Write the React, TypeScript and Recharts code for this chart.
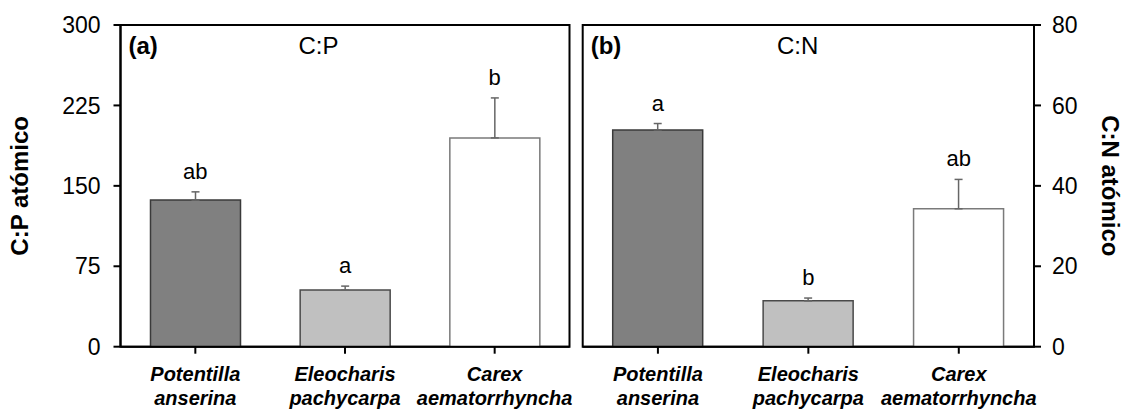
import React from 'react'
import { BarChart, Bar, XAxis, YAxis, ErrorBar, Cell, ReferenceDot, ReferenceArea, Label } from 'recharts'

// Species on the x axis (genus / epithet on two lines)
const genera = ['Potentilla', 'Eleocharis', 'Carex']
const epithets = ['anserina', 'pachycarpa', 'aematorrhyncha']

// Panel (a): atomic C:P, mean and standard error
const cpMeans = [136.7, 52.8, 194.7]
const cpErrors = [7.7, 3.7, 37.3]
const cpLetters = ['ab', 'a', 'b']
const cpTicks = [0, 75, 150, 225, 300]

// Panel (b): atomic C:N, mean and standard error
const cnMeans = [53.9, 11.4, 34.3]
const cnErrors = [1.6, 0.7, 7.3]
const cnLetters = ['a', 'b', 'ab']
const cnTicks = [0, 20, 40, 60, 80]

const barFills = ['#808080', '#c0c0c0', '#ffffff']
const barStrokes = ['#3a3a3a', '#4a4a4a', '#7a7a7a']

const FONT = '"Liberation Sans", Arial, Helvetica, sans-serif'
const AXIS = { stroke: '#000', strokeWidth: 2 }

const SpeciesTick = ({ x, y, payload }: any) => {
  const [genus, epithet] = String(payload.value).split(' ')
  return (
    <text
      x={x}
      y={y}
      textAnchor="middle"
      fontFamily={FONT}
      fontSize={20}
      fontWeight="bold"
      fontStyle="italic"
      fill="#000"
    >
      <tspan x={x} dy={25}>{genus}</tspan>
      <tspan x={x} dy={24}>{epithet}</tspan>
    </text>
  )
}

interface PanelProps {
  tag: string
  title: string
  titleDx: number
  axisTitle: string
  means: number[]
  errors: number[]
  letters: string[]
  ticks: number[]
  side: 'left' | 'right'
  left: number
  width: number
  margin: { top: number; right: number; bottom: number; left: number }
  axisWidth: number
  axisTitleDx: number
}

function Panel({
  tag,
  title,
  titleDx,
  axisTitle,
  means,
  errors,
  letters,
  ticks,
  side,
  left,
  width,
  margin,
  axisWidth,
  axisTitleDx,
}: PanelProps) {
  const rows = genera.map((g, i) => ({
    name: `${g} ${epithets[i]}`,
    value: means[i],
    err: [0, errors[i]],
  }))
  const domainMax = ticks[ticks.length - 1]

  return (
    <div style={{ position: 'absolute', left, top: 0 }}>
      <BarChart width={width} height={412} data={rows} margin={margin}>
        <XAxis
          dataKey="name"
          interval={0}
          height={65.3}
          axisLine={AXIS}
          tickLine={AXIS}
          tickSize={7}
          tick={<SpeciesTick />}
        />
        <YAxis
          orientation={side}
          width={axisWidth}
          domain={[0, domainMax]}
          ticks={ticks}
          interval={0}
          axisLine={AXIS}
          tickLine={AXIS}
          tickSize={7}
          tickMargin={side === 'left' ? 13 : 11}
          tick={{ fill: '#000', fontSize: 23, fontFamily: FONT }}
        >
          <Label
            content={({ viewBox }: any) => {
              const cx = viewBox.x + axisTitleDx
              const cy = viewBox.y + viewBox.height / 2
              return (
                <text
                  x={cx}
                  y={cy}
                  transform={`rotate(${side === 'left' ? -90 : 90} ${cx} ${cy})`}
                  textAnchor="middle"
                  dominantBaseline="central"
                  fontFamily={FONT}
                  fontSize={24}
                  fontWeight="bold"
                  fill="#000"
                >
                  {axisTitle}
                </text>
              )
            }}
          />
        </YAxis>
        <Bar dataKey="value" barSize={90} strokeWidth={1.5} isAnimationActive={false}>
          {rows.map((r, i) => (
            <Cell key={r.name} fill={barFills[i]} stroke={barStrokes[i]} />
          ))}
          <ErrorBar dataKey="err" direction="y" width={4} stroke="#666" strokeWidth={1.5} />
        </Bar>
        {/* panel frame, with the tag and title in its top-left part */}
        <ReferenceArea
          y1={0}
          y2={domainMax}
          fill="none"
          stroke="#000"
          strokeWidth={2}
          fillOpacity={0}
          label={({ viewBox }: any) => (
            <g fontFamily={FONT} fill="#000">
              <text x={viewBox.x + 8} y={viewBox.y + 29} fontSize={24} fontWeight="bold">
                {tag}
              </text>
              <text x={viewBox.x + titleDx} y={viewBox.y + 29} fontSize={24} textAnchor="middle">
                {title}
              </text>
            </g>
          )}
        />
        {rows.map((r, i) => (
          <ReferenceDot
            key={`letter-${r.name}`}
            x={r.name}
            y={means[i] + errors[i]}
            r={0}
            fill="none"
            stroke="none"
            label={{
              value: letters[i],
              position: 'top',
              offset: 13,
              fontSize: 22,
              fontFamily: FONT,
              fill: '#000',
            }}
          />
        ))}
      </BarChart>
    </div>
  )
}

export default function App() {
  return (
    <div
      style={{
        position: 'absolute',
        left: 0,
        top: 0,
        width: 1125,
        height: 412,
        background: '#fff',
        overflow: 'hidden',
      }}
    >
      <Panel
        tag="(a)"
        title="C:P"
        titleDx={198}
        axisTitle="C:P atómico"
        means={cpMeans}
        errors={cpErrors}
        letters={cpLetters}
        ticks={cpTicks}
        side="left"
        left={0}
        width={580}
        margin={{ top: 25, right: 10.5, bottom: 0, left: 0 }}
        axisWidth={120.5}
        axisTitleDx={20}
      />
      <Panel
        tag="(b)"
        title="C:N"
        titleDx={215}
        axisTitle="C:N atómico"
        means={cnMeans}
        errors={cnErrors}
        letters={cnLetters}
        ticks={cnTicks}
        side="right"
        left={560}
        width={565}
        margin={{ top: 25, right: 0, bottom: 0, left: 22.7 }}
        axisWidth={91}
        axisTitleDx={76}
      />
    </div>
  )
}
